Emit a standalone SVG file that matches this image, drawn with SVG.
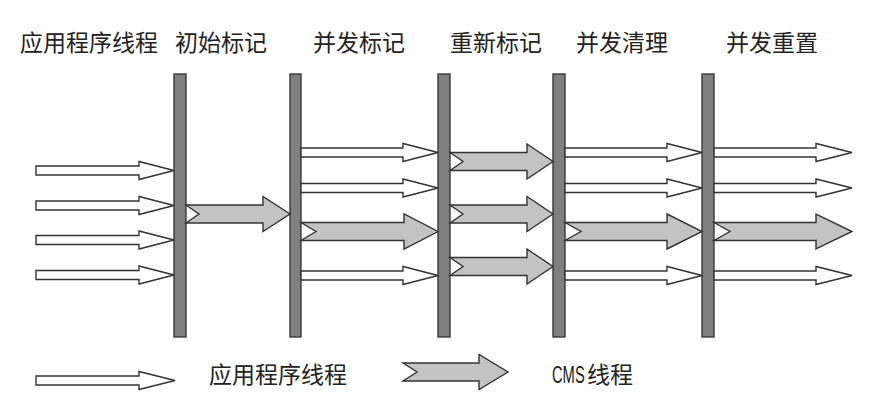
<svg xmlns="http://www.w3.org/2000/svg" width="888" height="405" viewBox="0 0 888 405">
<style>
.bg{fill:#ffffff}
.bar{fill:#808080;stroke:#2e2e2e;stroke-width:1.3}
.app{fill:#ffffff;stroke:#333333;stroke-width:1.4;stroke-linejoin:miter}
.cms{fill:#c3c3c3;stroke:#333333;stroke-width:1.4;stroke-linejoin:miter}
.lbl{font-family:"Noto Sans CJK SC","Noto Sans",sans-serif;font-size:23px;fill:#222222}
.lat{font-family:"Liberation Sans",Arial,sans-serif;font-size:23px;fill:#222222}
</style>
<rect class="bg" x="0" y="0" width="888" height="405"/>
<g id="phase-app">
  <text class="lbl" x="20" y="51">应用程序线程</text>
</g>
<g id="phase-initial-mark">
  <text class="lbl" x="175" y="51">初始标记</text>
  <rect class="bar" x="174" y="74" width="12" height="263"/>
</g>
<g id="phase-concurrent-mark">
  <text class="lbl" x="313" y="51">并发标记</text>
  <rect class="bar" x="290" y="74" width="11" height="263"/>
</g>
<g id="phase-remark">
  <text class="lbl" x="450" y="51">重新标记</text>
  <rect class="bar" x="438" y="74" width="12" height="263"/>
</g>
<g id="phase-concurrent-sweep">
  <text class="lbl" x="576" y="51">并发清理</text>
  <rect class="bar" x="553" y="74" width="12" height="263"/>
</g>
<g id="phase-concurrent-reset">
  <text class="lbl" x="726" y="51">并发重置</text>
  <rect class="bar" x="702" y="74" width="12" height="263"/>
</g>
<g id="connectors">
  <path class="app" d="M36,166 H139 V161.5 L174,170.5 L139,179.5 V175 H36 Z"/>
  <path class="app" d="M36,201 H139 V196.5 L174,205.5 L139,214.5 V210 H36 Z"/>
  <path class="app" d="M36,235.5 H139 V231 L174,240 L139,249 V244.5 H36 Z"/>
  <path class="app" d="M36,270.5 H139 V266 L174,275 L139,284 V279.5 H36 Z"/>
  <path class="cms" d="M186,205 H263 V196.5 L290,214 L263,231.5 V223 H186 L199,214 Z"/>
  <path class="app" d="M301,148 H403 V143.5 L438,152.5 L403,161.5 V157 H301 Z"/>
  <path class="app" d="M301,183.5 H403 V179 L438,188 L403,197 V192.5 H301 Z"/>
  <path class="cms" d="M301,222.5 H404 V214 L438,231.5 L404,249 V240.5 H301 L316,231.5 Z"/>
  <path class="app" d="M301,271 H403 V266.5 L438,275.5 L403,284.5 V280 H301 Z"/>
  <path class="cms" d="M450,152.5 H527 V144 L553,161.5 L527,179 V170.5 H450 L463,161.5 Z"/>
  <path class="cms" d="M450,205 H527 V196.5 L553,214 L527,231.5 V223 H450 L463,214 Z"/>
  <path class="cms" d="M450,257.5 H527 V249 L553,266.5 L527,284 V275.5 H450 L463,266.5 Z"/>
  <path class="app" d="M565,148 H667 V143.5 L702,152.5 L667,161.5 V157 H565 Z"/>
  <path class="app" d="M565,183.5 H667 V179 L702,188 L667,197 V192.5 H565 Z"/>
  <path class="cms" d="M565,222.5 H667 V214 L702,231.5 L667,249 V240.5 H565 L581,231.5 Z"/>
  <path class="app" d="M565,271 H667 V266.5 L702,275.5 L667,284.5 V280 H565 Z"/>
  <path class="app" d="M714,148 H816 V143.5 L852,152.5 L816,161.5 V157 H714 Z"/>
  <path class="app" d="M714,183.5 H816 V179 L852,188 L816,197 V192.5 H714 Z"/>
  <path class="cms" d="M714,222.5 H816 V214 L852,231.5 L816,249 V240.5 H714 L730,231.5 Z"/>
  <path class="app" d="M714,271 H816 V266.5 L852,275.5 L816,284.5 V280 H714 Z"/>
</g>
<g id="legend">
  <path class="app" d="M36,376 H139 V371.5 L175,380.5 L139,389.5 V385 H36 Z"/>
  <text class="lbl" x="209" y="383">应用程序线程</text>
  <path class="cms" d="M403,363 H479 V354.5 L508,372 L479,389.5 V381 H403 L417,372 Z"/>
  <text class="lat" transform="translate(552,383) scale(0.64,1)" x="0" y="0">CMS</text>
  <text class="lbl" x="587" y="383">线程</text>
</g>
</svg>
